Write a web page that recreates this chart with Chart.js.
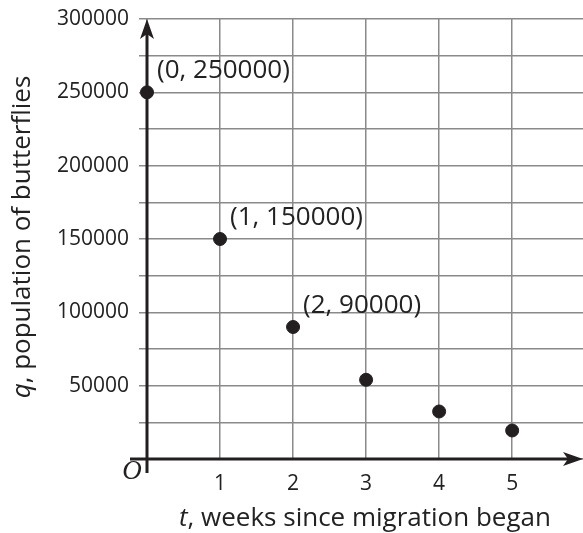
<!DOCTYPE html>
<html>
<head>
<meta charset="utf-8">
<style>
  html, body { margin: 0; padding: 0; background: #fff; }
  #wrap { width: 583px; height: 533px; }
</style>
<script src="https://cdn.jsdelivr.net/npm/chart.js@4/dist/chart.umd.min.js"></script>
</head>
<body>
<div id="wrap"><canvas id="myChart" width="583" height="533"></canvas></div>
<script>
// data
var weeks = [0, 1, 2, 3, 4, 5];
var butterflies = [250000, 150000, 90000, 54000, 32400, 19440];
var pointLabels = ["(0, 250000)", "(1, 150000)", "(2, 90000)", "", "", ""];
var xTicks = [1, 2, 3, 4, 5];
var yTicks = [50000, 100000, 150000, 200000, 250000, 300000];
var xTitle = ["t", ", weeks since migration began"];
var yTitle = ["q", ", population of butterflies"];

var ink = "#231f20";
var font = "'Open Sans', sans-serif";

var points = weeks.map(function (w, i) {
  return { x: w, y: butterflies[i] };
});

// axes with arrows, point labels, axis titles
var decor = {
  id: "decor",
  afterDraw: function (chart) {
    var c = chart.ctx;
    var xs = chart.scales.x, ys = chart.scales.y;
    var x0 = xs.getPixelForValue(0), y0 = ys.getPixelForValue(0);
    var top = ys.getPixelForValue(300000);
    var right = chart.width;
    c.save();
    c.strokeStyle = ink;
    c.fillStyle = ink;
    c.lineWidth = 3;
    c.beginPath();
    c.moveTo(x0, y0 + 14);
    c.lineTo(x0, top + 10);
    c.moveTo(x0 - 17, y0);
    c.lineTo(right - 10, y0);
    c.stroke();
    // arrow heads
    c.beginPath();
    c.moveTo(x0, top);
    c.lineTo(x0 - 7, top + 20);
    c.lineTo(x0, top + 15);
    c.lineTo(x0 + 7, top + 20);
    c.closePath();
    c.fill();
    c.beginPath();
    c.moveTo(right, y0);
    c.lineTo(right - 20, y0 - 7);
    c.lineTo(right - 15, y0);
    c.lineTo(right - 20, y0 + 7);
    c.closePath();
    c.fill();

    // origin
    c.font = "italic 27px 'Liberation Serif', serif";
    c.textAlign = "center";
    c.textBaseline = "middle";
    c.fillText("O", x0 - 15, y0 + 13);

    // point labels
    c.font = "26px " + font;
    c.textAlign = "left";
    c.textBaseline = "alphabetic";
    c.fillStyle = "#222";
    points.forEach(function (p, i) {
      if (!pointLabels[i]) return;
      c.fillText(pointLabels[i], xs.getPixelForValue(p.x) + 10, ys.getPixelForValue(p.y) - 14);
    });

    // x title
    c.font = "26px " + font;
    var w1 = c.measureText(xTitle[1]).width;
    c.font = "italic 26px " + font;
    var w0 = c.measureText(xTitle[0]).width;
    var sx = 365 - (w0 + w1) / 2;
    c.fillText(xTitle[0], sx, 526);
    c.font = "26px " + font;
    c.fillText(xTitle[1], sx + w0, 526);

    // y title
    c.translate(30, 237);
    c.rotate(-Math.PI / 2);
    c.font = "26px " + font;
    w1 = c.measureText(yTitle[1]).width;
    c.font = "italic 26px " + font;
    w0 = c.measureText(yTitle[0]).width;
    sx = -(w0 + w1) / 2;
    c.fillText(yTitle[0], sx, 0);
    c.font = "26px " + font;
    c.fillText(yTitle[1], sx + w0, 0);
    c.restore();
  },
};

var ctx = document.getElementById("myChart").getContext("2d");
var chart = new Chart(ctx, {
  type: "scatter",
  data: {
    datasets: [
      {
        data: points,
        backgroundColor: ink,
        borderColor: ink,
        pointRadius: 6.5,
        pointHoverRadius: 6.5,
        clip: false,
      },
    ],
  },
  options: {
    responsive: false,
    animation: false,
    layout: { autoPadding: false, padding: { top: 19, right: 0, left: 0, bottom: 0 } },
    plugins: { legend: { display: false }, tooltip: { enabled: false } },
    scales: {
      x: {
        type: "linear",
        min: 0,
        max: 5.97,
        afterBuildTicks: function (scale) {
          scale.ticks = [0].concat(xTicks).map(function (v) {
            return { value: v };
          });
        },
        afterFit: function (scale) {
          scale.height = 74;
          scale.paddingLeft = 0;
          scale.paddingRight = 0;
        },
        border: { display: false },
        grid: { color: "#8a8a8a", lineWidth: 1.5, drawTicks: false },
        ticks: {
          padding: 12,
          color: "#222",
          font: { family: font, size: 21 },
          callback: function (v) {
            return v === 0 ? "" : v;
          },
        },
      },
      y: {
        min: 0,
        max: 300000,
        ticks: {
          stepSize: 25000,
          padding: 10,
          color: "#222",
          font: { family: font, size: 21 },
          callback: function (v) {
            return yTicks.indexOf(v) >= 0 ? v : "";
          },
        },
        afterFit: function (scale) {
          scale.width = 147;
          scale.paddingTop = 0;
          scale.paddingBottom = 0;
        },
        border: { display: false },
        grid: { color: "#8a8a8a", lineWidth: 1.5, tickLength: 8 },
      },
    },
  },
  plugins: [decor],
});
</script>
</body>
</html>
